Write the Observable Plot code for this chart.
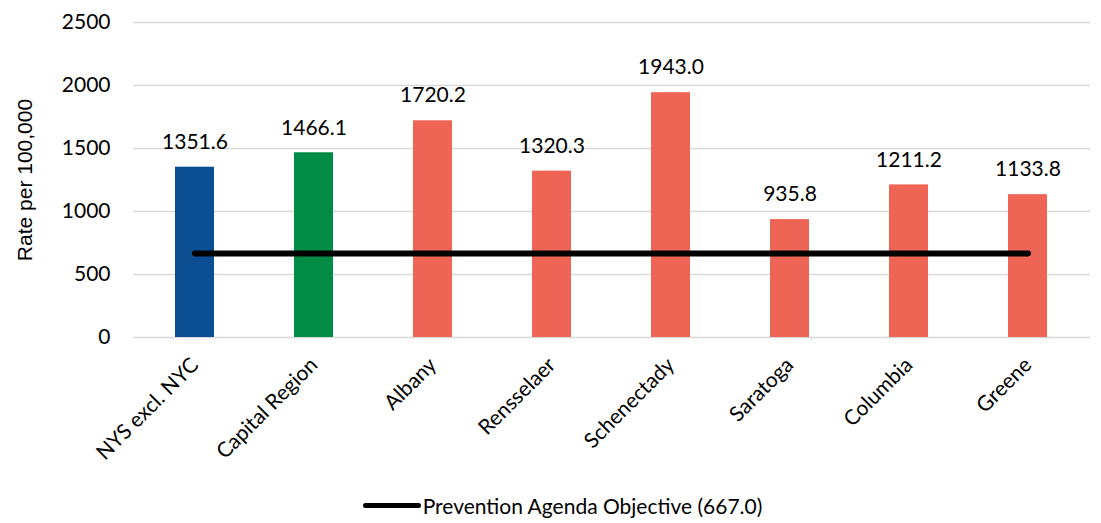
<!DOCTYPE html>
<html>
<head>
<meta charset="utf-8">
<script src="https://cdn.jsdelivr.net/npm/d3@7"></script>
<script src="https://cdn.jsdelivr.net/npm/@observablehq/plot@0.6"></script>
<style>
  html, body { margin: 0; padding: 0; background: #fff; }
  body { width: 1101px; height: 523px; overflow: hidden; font-family: Lato, "Open Sans", sans-serif; }
  #legend { height: 35px; display: flex; justify-content: center; align-items: center; font-size: 21px; color: #000; padding-left: 24px; box-sizing: border-box; }
  #legend .sw { width: 58px; height: 5px; background: #000; border-radius: 3px; margin-right: 2px; }
</style>
</head>
<body>
<div id="chart"></div>
<div id="legend"><span class="sw"></span><span id="legtext"></span></div>
<script>
const categories = ["NYS excl. NYC", "Capital Region", "Albany", "Rensselaer", "Schenectady", "Saratoga", "Columbia", "Greene"];
const values = [1351.6, 1466.1, 1720.2, 1320.3, 1943.0, 935.8, 1211.2, 1133.8];
const groups = ["State", "Region", "County", "County", "County", "County", "County", "County"];
const yTicks = [0, 500, 1000, 1500, 2000, 2500];
const objective = 667.0;
const objectiveLabel = "Prevention Agenda Objective";

const data = categories.map((c, i) => ({category: c, value: values[i], group: groups[i]}));

const chart = Plot.plot({
  width: 1101,
  height: 488,
  marginTop: 22,
  marginBottom: 151,
  marginLeft: 133,
  marginRight: 11,
  style: {fontFamily: "Lato, 'Open Sans', sans-serif", fontSize: "21px", color: "#000"},
  x: {domain: categories, paddingInner: 0.67, paddingOuter: 0.335, label: null},
  y: {domain: [0, 2500], label: null},
  color: {domain: ["State", "Region", "County"], range: ["#0b4f92", "#008c45", "#ef6555"]},
  marks: [
    Plot.gridY(yTicks, {stroke: "#d9d9d9", strokeOpacity: 1, strokeWidth: 1.5}),
    Plot.axisY(yTicks, {tickSize: 0, tickPadding: 23, fontSize: 21, tickFormat: d => String(d), label: null}),
    Plot.text(["Rate per 100,000"], {frameAnchor: "left", dx: -108, rotate: -90, fontSize: 21, fontFamily: "'Liberation Sans', Arial, sans-serif", textAnchor: "middle"}),
    Plot.axisX({tickSize: 0, tickPadding: 24, tickRotate: -45, fontSize: 21, label: null}),
    Plot.barY(data, {x: "category", y: "value", fill: "group"}),
    Plot.text(data, {x: "category", y: "value", text: d => d.value.toFixed(1), dy: -25, fontSize: 21, fill: "#000"}),
    Plot.lineY(categories, {x: d => d, y: () => objective, stroke: "#000", strokeWidth: 6, strokeLinecap: "round"})
  ]
});
document.getElementById("chart").appendChild(chart);
document.getElementById("legtext").textContent = `${objectiveLabel} (${objective.toFixed(1)})`;
</script>
</body>
</html>
